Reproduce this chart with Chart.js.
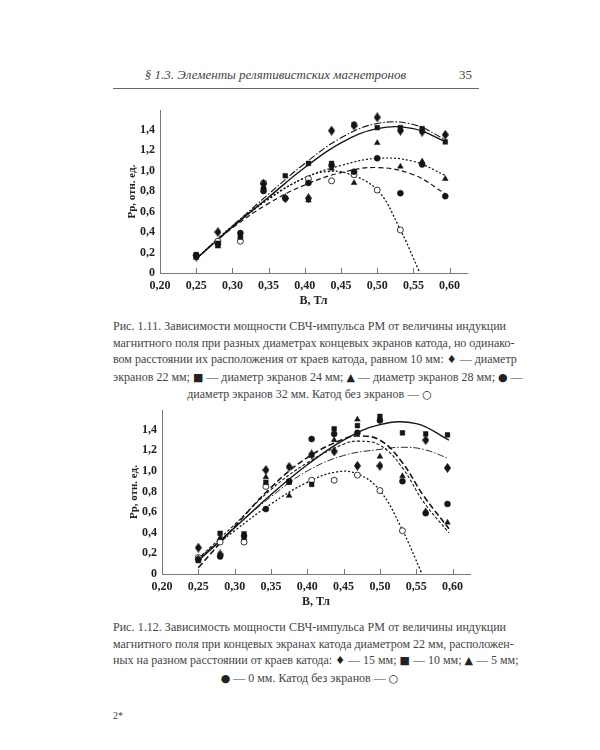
<!DOCTYPE html>
<html>
<head>
<meta charset="utf-8">
<script src="https://cdn.jsdelivr.net/npm/chart.js@4/dist/chart.umd.min.js"></script>
<style>
  body { margin: 0; background: #fff; }
  #page { position: relative; width: 600px; height: 750px; font-family: "Liberation Serif", serif; color: #444; }
  .abs { position: absolute; }
  #head { left: 113px; top: 67px; width: 365px; font-style: italic; font-size: 13px; }
  #head .num { position: absolute; right: 6px; top: 0; font-style: normal; }
  #rule { left: 113px; top: 88px; width: 366px; height: 1px; background: #666; }
  .cap { left: 113px; width: 393px; font-size: 12px; line-height: 16.5px; }
  .cap div { text-align: justify; text-align-last: justify; white-space: nowrap; }
  .cap div.last { text-align: center; text-align-last: center; }
  .sym { font-family: "DejaVu Sans", sans-serif; font-size: 11px; color: #222; }
</style>
</head>
<body>
<div id="page">
  <div id="head" class="abs" style="text-align:center">
    <span style="margin-left:-40px">§ 1.3. Элементы релятивистских магнетронов</span>
    <span class="num">35</span>
  </div>
  <div id="rule" class="abs"></div>

  <canvas id="fig1" class="abs" style="left:124px; top:98px" width="348" height="212"></canvas>

  <div class="abs cap" style="top:318px">
    <div>Рис. 1.11. Зависимости мощности СВЧ-импульса РМ от величины индукции</div>
    <div>магнитного поля при разных диаметрах концевых экранов катода, но одинако-</div>
    <div>вом расстоянии их расположения от краев катода, равном 10 мм: <span class="sym">♦</span> — диаметр</div>
    <div>экранов 22 мм; <span class="sym">■</span> — диаметр экранов 24 мм; <span class="sym">▲</span> — диаметр экранов 28 мм; <span class="sym">●</span> —</div>
    <div class="last">диаметр экранов 32 мм. Катод без экранов — <span class="sym">○</span></div>
  </div>

  <canvas id="fig2" class="abs" style="left:126px; top:398px" width="349" height="213"></canvas>

  <div class="abs cap" style="top:619px">
    <div>Рис. 1.12. Зависимость мощности СВЧ-импульса РМ от величины индукции</div>
    <div>магнитного поля при концевых экранах катода диаметром 22 мм, расположен-</div>
    <div>ных на разном расстоянии от краев катода: <span class="sym">♦</span> — 15 мм; <span class="sym">■</span> — 10 мм; <span class="sym">▲</span> — 5 мм;</div>
    <div class="last"><span class="sym">●</span> — 0 мм. Катод без экранов — <span class="sym">○</span></div>
  </div>

  <div class="abs" style="left:113px; top:710px; font-size:10px">2*</div>
</div>

<script>
// Fig. 1.11 measured points (B, Tl -> P, rel. units)
const fig1DiamondB = [0.25, 0.28, 0.343, 0.373, 0.405, 0.437, 0.468, 0.50, 0.532, 0.562, 0.594];
const fig1DiamondP = [0.16, 0.40, 0.87, 0.73, 0.73, 1.39, 1.44, 1.52, 1.39, 1.38, 1.35];
const fig1SquareB = [0.25, 0.28, 0.311, 0.343, 0.373, 0.405, 0.437, 0.468, 0.50, 0.532, 0.562, 0.594];
const fig1SquareP = [0.18, 0.29, 0.35, 0.82, 0.95, 1.07, 1.07, 1.45, 1.42, 1.42, 1.41, 1.28];
const fig1TriangleB = [0.25, 0.28, 0.311, 0.343, 0.405, 0.437, 0.468, 0.50, 0.532, 0.562, 0.594];
const fig1TriangleP = [0.15, 0.26, 0.36, 0.84, 0.71, 1.02, 0.88, 1.27, 1.04, 1.09, 0.92];
const fig1CircleB = [0.25, 0.28, 0.311, 0.343, 0.373, 0.405, 0.437, 0.468, 0.50, 0.532, 0.562, 0.594];
const fig1CircleP = [0.17, 0.28, 0.39, 0.80, 0.73, 0.88, 1.05, 0.99, 1.12, 0.78, 1.06, 0.75];
const fig1OpenB = [0.25, 0.28, 0.311, 0.343, 0.405, 0.437, 0.468, 0.50, 0.532];
const fig1OpenP = [0.17, 0.31, 0.31, 0.88, 0.92, 0.90, 0.96, 0.81, 0.42];

// Fig. 1.11 fitted curves
const fig1CurveB = [0.25, 0.30, 0.35, 0.40, 0.45, 0.50, 0.55, 0.595];
const fig1SolidP = [0.14, 0.45, 0.74, 1.03, 1.27, 1.41, 1.41, 1.28];
const fig1DashDotP = [0.14, 0.46, 0.77, 1.07, 1.32, 1.46, 1.45, 1.30];
const fig1DotP = [0.14, 0.45, 0.72, 0.93, 1.05, 1.12, 1.09, 0.95];
const fig1DashP = [0.14, 0.44, 0.68, 0.86, 0.98, 1.03, 0.96, 0.77];
const fig1OpenCurveB = [0.25, 0.30, 0.35, 0.40, 0.43, 0.46, 0.50, 0.53, 0.559];
const fig1OpenCurveP = [0.14, 0.46, 0.73, 0.93, 0.99, 0.97, 0.81, 0.45, 0];

// Fig. 1.12 measured points
const fig2DiamondB = [0.25, 0.28, 0.343, 0.375, 0.406, 0.437, 0.469, 0.50, 0.563, 0.593];
const fig2DiamondP = [0.255, 0.19, 1.01, 1.04, 1.16, 1.19, 1.05, 1.05, 1.30, 1.03];
const fig2SquareB = [0.25, 0.28, 0.313, 0.343, 0.375, 0.406, 0.437, 0.469, 0.50, 0.531, 0.563, 0.593];
const fig2SquareP = [0.13, 0.395, 0.39, 0.89, 0.89, 0.87, 1.41, 1.44, 1.53, 1.37, 1.36, 1.35];
const fig2TriangleB = [0.25, 0.28, 0.313, 0.343, 0.375, 0.406, 0.437, 0.469, 0.50, 0.531, 0.563, 0.593];
const fig2TriangleP = [0.15, 0.35, 0.35, 0.94, 0.76, 1.15, 1.30, 1.50, 1.14, 0.95, 0.61, 0.50];
const fig2CircleB = [0.25, 0.28, 0.313, 0.343, 0.375, 0.406, 0.437, 0.469, 0.50, 0.531, 0.563, 0.593];
const fig2CircleP = [0.14, 0.17, 0.37, 0.63, 0.90, 1.31, 1.36, 1.37, 1.49, 0.90, 0.59, 0.68];
const fig2OpenB = [0.25, 0.28, 0.313, 0.343, 0.406, 0.437, 0.469, 0.50, 0.531];
const fig2OpenP = [0.16, 0.31, 0.31, 0.85, 0.91, 0.91, 0.96, 0.81, 0.42];

// Fig. 1.12 fitted curves
const fig2SolidB = [0.25, 0.30, 0.35, 0.40, 0.45, 0.50, 0.55, 0.595];
const fig2SolidP = [0.13, 0.45, 0.77, 1.06, 1.30, 1.45, 1.46, 1.30];
const fig2FallB = [0.25, 0.30, 0.35, 0.40, 0.45, 0.47, 0.50, 0.53, 0.56, 0.595];
const fig2DashP = [0.06, 0.46, 0.84, 1.13, 1.31, 1.34, 1.30, 1.09, 0.76, 0.44];
const fig2ShortDashP = [0.15, 0.48, 0.82, 1.08, 1.26, 1.29, 1.25, 1.04, 0.70, 0.40];
const fig2DashDotB = [0.25, 0.30, 0.35, 0.40, 0.45, 0.50, 0.53, 0.56, 0.595];
const fig2DashDotP = [0.15, 0.45, 0.75, 1.00, 1.15, 1.21, 1.23, 1.21, 1.12];
const fig2OpenCurveB = [0.25, 0.30, 0.35, 0.40, 0.44, 0.47, 0.50, 0.53, 0.558];
const fig2OpenCurveP = [0.15, 0.42, 0.68, 0.89, 0.99, 0.97, 0.81, 0.44, 0];

const ink = '#151515';
const font = 'Liberation Serif';

function pts(xs, ys) {
    return xs.map((x, i) => ({ x: x, y: ys[i] }));
}

// narrow diamond marker like in the book
function diamondMarker() {
    const c = document.createElement('canvas');
    c.width = 7;
    c.height = 10;
    const g = c.getContext('2d');
    g.fillStyle = ink;
    g.beginPath();
    g.moveTo(3.5, 0);
    g.lineTo(7, 5);
    g.lineTo(3.5, 10);
    g.lineTo(0, 5);
    g.closePath();
    g.fill();
    return c;
}
const diamond = diamondMarker();

function markers(xs, ys, style, open) {
    return {
        data: pts(xs, ys),
        pointStyle: style,
        pointRadius: style === 'circle' ? 3 : 3.3,
        backgroundColor: open ? '#fff' : ink,
        borderColor: open ? '#333' : ink,
        borderWidth: open ? 1 : 0.5,
        showLine: false
    };
}

function curve(xs, ys, dash, width) {
    return {
        data: pts(xs, ys),
        showLine: true,
        pointRadius: 0,
        borderColor: ink,
        borderWidth: width || 1.2,
        borderDash: dash,
        tension: 0.4,
        fill: false
    };
}

// tick marks on the x axis point up into the plot
const innerTicks = {
    id: 'innerTicks',
    afterDraw(chart) {
        const sx = chart.scales.x;
        const ctx = chart.ctx;
        ctx.save();
        ctx.strokeStyle = '#777';
        ctx.lineWidth = 1;
        sx.ticks.forEach(t => {
            if (t.value < 0.21) return;
            const px = Math.round(sx.getPixelForValue(t.value)) + 0.5;
            ctx.beginPath();
            ctx.moveTo(px, sx.top);
            ctx.lineTo(px, sx.top - 5);
            ctx.stroke();
        });
        ctx.restore();
    }
};

function makeChart(id, datasets) {
    return new Chart(document.getElementById(id), {
        type: 'scatter',
        data: { datasets: datasets },
        options: {
            responsive: false,
            animation: false,
            layout: { padding: { top: 5, right: 5, left: 0, bottom: 0 } },
            plugins: { legend: { display: false }, tooltip: { enabled: false } },
            scales: {
                x: {
                    min: 0.2,
                    max: 0.624,
                    afterFit: s => { s.height = 37; },
                    grid: { display: true, drawOnChartArea: false, drawTicks: false },
                    border: { display: true, color: '#777', width: 1 },
                    ticks: {
                        stepSize: 0.05,
                        includeBounds: false,
                        maxRotation: 0,
                        padding: 6,
                        color: '#222',
                        font: { family: font, size: 12, weight: 'bold' },
                        callback: v => v.toFixed(2).replace('.', ',')
                    },
                    title: {
                        display: true,
                        text: 'B, Тл',
                        color: '#222',
                        padding: { top: 0, bottom: 2 },
                        font: { family: font, size: 12, weight: 'bold' }
                    }
                },
                y: {
                    min: 0,
                    max: 1.59,
                    afterFit: s => { s.width = 36; },
                    grid: { display: true, drawOnChartArea: false, drawTicks: false },
                    border: { display: true, color: '#777', width: 1 },
                    ticks: {
                        stepSize: 0.2,
                        includeBounds: false,
                        padding: 5,
                        color: '#222',
                        font: { family: font, size: 12, weight: 'bold' },
                        callback: v => v < 0.01 ? '0' : v.toFixed(1).replace('.', ',')
                    },
                    title: {
                        display: true,
                        text: 'Pр, отн. ед.',
                        color: '#222',
                        padding: { top: 2, bottom: 0 },
                        font: { family: font, size: 11, weight: 'bold' }
                    }
                }
            }
        },
        plugins: [innerTicks]
    });
}

makeChart('fig1', [
    markers(fig1DiamondB, fig1DiamondP, diamond),
    markers(fig1SquareB, fig1SquareP, 'rect'),
    markers(fig1TriangleB, fig1TriangleP, 'triangle'),
    markers(fig1CircleB, fig1CircleP, 'circle'),
    markers(fig1OpenB, fig1OpenP, 'circle', true),
    curve(fig1CurveB, fig1SolidP, [], 1.4),
    curve(fig1CurveB, fig1DashDotP, [7, 2, 1.5, 2], 1.1),
    curve(fig1CurveB, fig1DotP, [2, 2], 1.2),
    curve(fig1CurveB, fig1DashP, [5, 3], 1.2),
    curve(fig1OpenCurveB, fig1OpenCurveP, [2, 2], 1.3)
]);

makeChart('fig2', [
    markers(fig2DiamondB, fig2DiamondP, diamond),
    markers(fig2SquareB, fig2SquareP, 'rect'),
    markers(fig2TriangleB, fig2TriangleP, 'triangle'),
    markers(fig2CircleB, fig2CircleP, 'circle'),
    markers(fig2OpenB, fig2OpenP, 'circle', true),
    curve(fig2SolidB, fig2SolidP, [], 1.4),
    curve(fig2FallB, fig2DashP, [6, 3], 1.6),
    curve(fig2FallB, fig2ShortDashP, [3, 2], 1.1),
    curve(fig2DashDotB, fig2DashDotP, [7, 2, 1.5, 2], 0.9),
    curve(fig2OpenCurveB, fig2OpenCurveP, [2, 2], 1.3)
]);
</script>
</body>
</html>
